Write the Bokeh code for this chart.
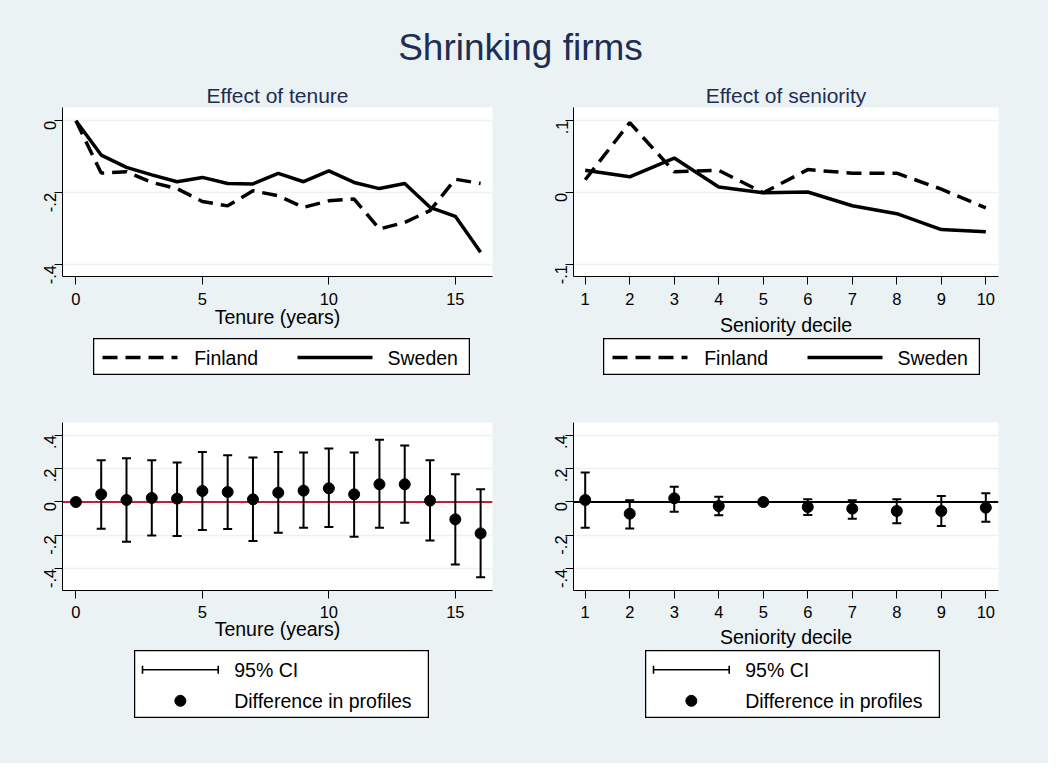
import math
from bokeh.plotting import figure
from bokeh.layouts import column, row
from bokeh.models import (Range1d, FixedTicker, CustomJSTickFormatter, ColumnDataSource,
                          Whisker, TeeHead, Span, Spacer)
from bokeh.embed import file_html
from bokeh.resources import INLINE
from bokeh.core.properties import value

# ---------------- data ----------------
main_title = "Shrinking firms"
title_tenure = "Effect of tenure"
title_senior = "Effect of seniority"
xlabel_tenure = "Tenure (years)"
xlabel_senior = "Seniority decile"
series_names = ["Finland", "Sweden"]
ci_names = ["95% CI", "Difference in profiles"]

tenure = list(range(17))
fin_tenure = [0.0, -0.145, -0.141, -0.171, -0.188, -0.224, -0.236, -0.194, -0.208,
              -0.240, -0.222, -0.217, -0.300, -0.282, -0.249, -0.162, -0.174]
swe_tenure = [0.0, -0.095, -0.129, -0.150, -0.169, -0.157, -0.174, -0.175, -0.146,
              -0.169, -0.139, -0.171, -0.188, -0.174, -0.240, -0.265, -0.365]

decile = list(range(1, 11))
fin_senior = [0.018, 0.097, 0.029, 0.031, 0.0, 0.032, 0.027, 0.027, 0.005, -0.021]
swe_senior = [0.031, 0.022, 0.048, 0.008, 0.0, 0.001, -0.018, -0.029, -0.051, -0.054]

diff_tenure = [0.0, 0.046, 0.012, 0.024, 0.020, 0.066, 0.060, 0.016, 0.056, 0.068,
               0.082, 0.046, 0.106, 0.106, 0.008, -0.104, -0.188]
ci_lo_tenure = [None, -0.160, -0.238, -0.200, -0.204, -0.168, -0.162, -0.234, -0.184,
                -0.154, -0.150, -0.208, -0.154, -0.124, -0.230, -0.374, -0.450]
ci_hi_tenure = [None, 0.250, 0.262, 0.250, 0.236, 0.300, 0.280, 0.266, 0.300,
                0.296, 0.320, 0.296, 0.372, 0.338, 0.250, 0.166, 0.076]

diff_senior = [0.012, -0.070, 0.022, -0.024, 0.0, -0.030, -0.040, -0.054, -0.054, -0.034]
ci_lo_senior = [-0.154, -0.158, -0.058, -0.080, None, -0.078, -0.100, -0.128, -0.144, -0.118]
ci_hi_senior = [0.176, 0.010, 0.092, 0.032, None, 0.016, 0.010, 0.016, 0.036, 0.052]

xticks_tenure = [0, 5, 10, 15]
xticks_senior = decile
yticks_top_tenure = [-0.4, -0.2, 0.0]
yticks_top_senior = [-0.1, 0.0, 0.1]
yticks_bottom = [-0.4, -0.2, 0.0, 0.2, 0.4]

# ---------------- style ----------------
BG = "#eaf2f3"
NAVY = "#1e2d53"
FONT = "Liberation Sans"
DASH = "15 8"
LW = 3.5

fmt = CustomJSTickFormatter(code=r"""
var s = Number(tick.toFixed(3)).toString();
return s.replace(/^(-?)0\./, '$1.');
""")


def panel(width, height, left, right, top, bottom, xr, yr, xticks, yticks,
          xlabel, title=None, tick_std=5, label_std=0):
    p = figure(width=width, height=height, x_range=Range1d(*xr), y_range=Range1d(*yr),
               output_backend="svg", toolbar_location=None,
               min_border_left=left, min_border_right=right,
               min_border_top=top, min_border_bottom=bottom,
               background_fill_color="white", border_fill_color=BG,
               outline_line_color=None)
    if title:
        p.title.text = title
        p.title.align = "center"
        p.title.text_font = FONT
        p.title.text_font_size = "21px"
        p.title.text_font_style = "normal"
        p.title.text_color = NAVY
        p.title.standoff = 2
    xa = p.xaxis[0]
    xa.ticker = FixedTicker(ticks=xticks)
    xa.axis_label = xlabel
    xa.axis_label_text_font = FONT
    xa.axis_label_text_font_size = "19.5px"
    xa.axis_label_text_font_style = "normal"
    xa.axis_label_text_color = "black"
    xa.axis_label_standoff = label_std
    xa.major_label_standoff = tick_std
    ya = p.yaxis[0]
    yt = FixedTicker(ticks=yticks)
    ya.ticker = yt
    ya.formatter = fmt
    ya.major_label_orientation = math.pi / 2
    ya.major_label_standoff = 4
    for a in (xa, ya):
        a.major_label_text_font = FONT
        a.major_label_text_font_size = "16.5px"
        a.major_label_text_color = "black"
        a.axis_line_color = "black"
        a.axis_line_width = 1
        a.major_tick_line_color = "black"
        a.major_tick_out = 8
        a.major_tick_in = 0
        a.minor_tick_out = 0
        a.minor_tick_in = 0
    p.xgrid.visible = False
    p.ygrid.ticker = yt
    p.ygrid.grid_line_color = BG
    p.ygrid.grid_line_width = 1.5
    return p


def legend_fig(w, h):
    p = figure(width=w, height=h, x_range=Range1d(0, w), y_range=Range1d(0, h),
               output_backend="svg", toolbar_location=None, min_border=0,
               x_axis_location=None, y_axis_location=None,
               background_fill_color="white", border_fill_color=BG,
               outline_line_color="black", outline_line_width=1.5)
    p.grid.visible = False
    return p


# ---------------- title ----------------
tf = figure(width=1056, height=85, x_range=Range1d(0, 1), y_range=Range1d(0, 85),
            output_backend="svg", toolbar_location=None, min_border=0,
            x_axis_location=None, y_axis_location=None,
            background_fill_color=BG, border_fill_color=BG, outline_line_color=None)
tf.grid.visible = False
tf.text(x=[0.5], y=[30], text=[main_title], text_font=value(FONT), text_font_size="37px",
        text_color=NAVY, text_align="center", text_baseline="alphabetic")

# ---------------- top ----------------
xr_ten = (-0.53, 16.47)
xr_sen = (0.737, 10.285)
tl = panel(526, 261, 70, 26, 30, 62, xr_ten, (-0.432, 0.037), xticks_tenure,
           yticks_top_tenure, xlabel_tenure, title_tenure, tick_std=8, label_std=-2)
tl.line(tenure, fin_tenure, line_color="black", line_width=LW, line_dash=DASH)
tl.line(tenure, swe_tenure, line_color="black", line_width=LW)

tr = panel(530, 261, 55, 50, 30, 62, xr_sen, (-0.116, 0.118), xticks_senior,
           yticks_top_senior, xlabel_senior, title_senior, tick_std=8, label_std=6)
tr.line(decile, fin_senior, line_color="black", line_width=LW, line_dash=DASH)
tr.line(decile, swe_senior, line_color="black", line_width=LW)


# ---------------- bottom ----------------
def ci_source(xs, lo, hi):
    keep = [i for i in range(len(xs)) if lo[i] is not None]
    return ColumnDataSource(dict(x=[xs[i] for i in keep], lower=[lo[i] for i in keep],
                                 upper=[hi[i] for i in keep]))


def add_ci(p, xs, ys, lo, hi, zero_color):
    p.add_layout(Span(location=0, dimension="width", line_color=zero_color,
                      line_width=2, level="underlay"))
    src = ci_source(xs, lo, hi)
    p.add_layout(Whisker(source=src, base="x", lower="lower", upper="upper",
                         dimension="height", line_color="black", line_width=2,
                         level="glyph",
                         upper_head=TeeHead(size=9, line_width=2, line_color="black"),
                         lower_head=TeeHead(size=9, line_width=2, line_color="black")))
    p.scatter(xs, ys, size=11, color="black")


bl = panel(526, 275, 70, 26, 47, 60, xr_ten, (-0.53, 0.476), xticks_tenure,
           yticks_bottom, xlabel_tenure, None, tick_std=7, label_std=-3)
add_ci(bl, tenure, diff_tenure, ci_lo_tenure, ci_hi_tenure, "#c41e3a")

br = panel(530, 275, 55, 50, 47, 60, xr_sen, (-0.53, 0.476), xticks_senior,
           yticks_bottom, xlabel_senior, None, tick_std=7, label_std=5)
add_ci(br, decile, diff_senior, ci_lo_senior, ci_hi_senior, "black")


# ---------------- legends ----------------
def line_legend():
    w, h = 377, 37
    p = legend_fig(w, h)
    ym = 18
    p.segment(x0=[9], y0=[ym], x1=[84], y1=[ym], line_color="black", line_width=LW,
              line_dash=DASH)
    p.segment(x0=[204], y0=[ym], x1=[279], y1=[ym], line_color="black", line_width=LW)
    p.text(x=[100.7, 294], y=[ym, ym], text=series_names, text_font=value(FONT),
           text_font_size="19.5px", text_color="black", text_baseline="middle",
           text_align="left")
    return p


def ci_legend():
    w, h = 295, 68
    p = legend_fig(w, h)
    y1, y2 = 48.7, 17.7
    x0, x1 = 8, 83.7
    p.segment(x0=[x0, x0, x1], y0=[y1, y1 - 4, y1 - 4], x1=[x1, x0, x1], y1=[y1, y1 + 4, y1 + 4],
              line_color="black", line_width=1.6)
    p.scatter(x=[(x0 + x1) / 2], y=[y2], size=11, color="black")
    p.text(x=[99.7, 99.7], y=[y1, y2], text=ci_names, text_font=value(FONT),
           text_font_size="19.5px", text_color="black", text_baseline="middle",
           text_align="left")
    return p


leg_row1 = row(Spacer(width=101, height=37), line_legend(), Spacer(width=133, height=37),
               line_legend(), Spacer(width=68, height=37))
leg_row2 = row(Spacer(width=142, height=68), ci_legend(), Spacer(width=216, height=68),
               ci_legend(), Spacer(width=108, height=68))

root = column(tf, row(tl, tr), leg_row1, row(bl, br), leg_row2,
              Spacer(width=1056, height=45),
              styles={"background-color": BG, "margin": "-8px"})

open("out.html", "w").write(file_html(root, INLINE))
